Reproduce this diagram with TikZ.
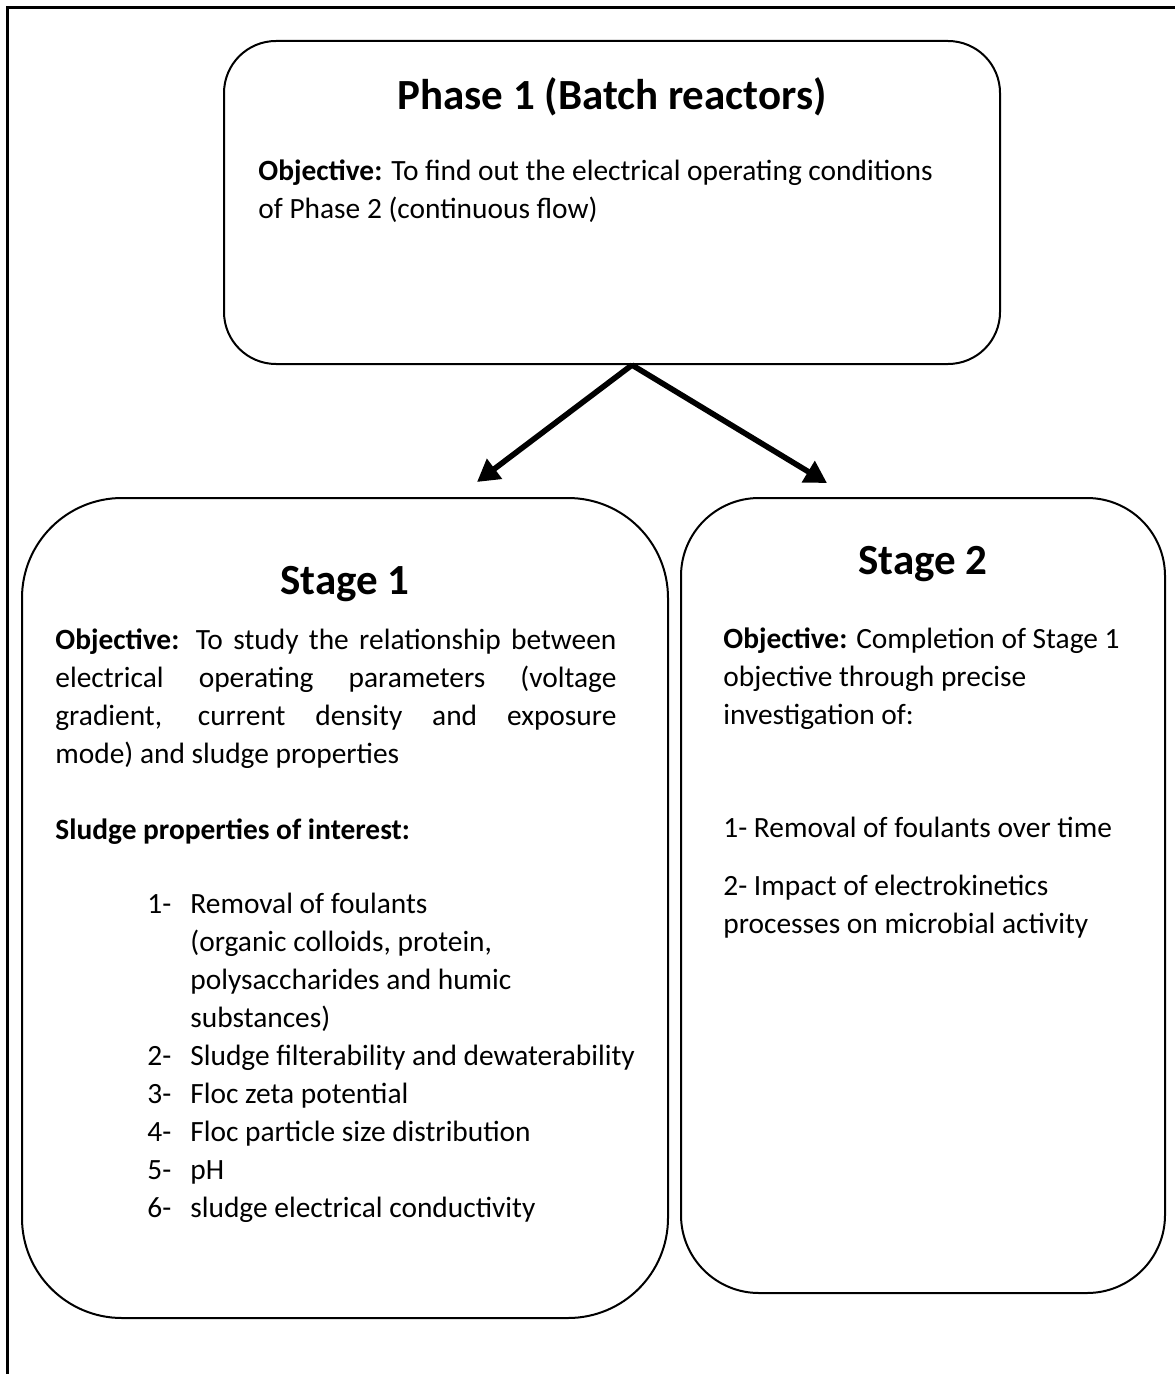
\documentclass[tikz,border=0pt]{standalone}
\usepackage{fontspec}
\setmainfont{Carlito}
\usetikzlibrary{arrows.meta, positioning}

\tikzset{
  stagebox/.style={draw, line width=1pt, inner sep=0pt},
  headtext/.style={font=\fontsize{21.5}{26}\selectfont\bfseries, inner sep=0pt, anchor=base},
  bodytext/.style={font=\fontsize{14.7}{19}\selectfont, inner sep=0pt, anchor=base west, align=left},
  flowarrow/.style={line width=2.8pt, -{Triangle[length=11pt,width=12pt]}}
}
\newcommand{\itemno}[1]{\makebox[21.5pt][l]{#1}}
\newcommand{\itemgap}{\hspace*{21.5pt}}

\begin{document}
\begin{tikzpicture}[x=0.5pt, y=-0.5pt]
    \useasboundingbox (0,0) rectangle (1175,1374);
    % page frame (top and left only)
    \draw[line width=1.25pt] (7.5,1374) -- (7.5,7.5) -- (1175,7.5);

    % boxes
    \node[stagebox, rounded corners=26pt, minimum width=388pt, minimum height=161.5pt] (phase) at (612,202.5) {};
    \node[stagebox, rounded corners=50pt, minimum width=323pt, minimum height=410pt] (stageone) at (345,908) {};
    \node[stagebox, rounded corners=39pt, minimum width=242pt, minimum height=397.5pt] (stagetwo) at (923,895.5) {};

    % Phase 1 (multi-line nodes sit on their last baseline)
    \node[headtext] (phasetitle) at (612,110) {Phase 1 (Batch reactors)};
    \node[bodytext] (phaseobj) at (258,219) {\textbf{Objective:} To find out the electrical operating conditions\\
      of Phase 2 (continuous flow)};

    % Stage 1
    \node[headtext] (onetitle) at (345,594) {Stage 1};
    \node[bodytext, text width=280.5pt, align=justify] (oneobj) at (55,649) {\textbf{Objective:} To study the relationship between\linebreak
      electrical operating parameters (voltage\linebreak
      gradient, current density and exposure\linebreak
      mode) and sludge properties};
    \node[bodytext, font=\fontsize{14.7}{19}\selectfont\bfseries] (onehead) at (55,839) {Sludge properties of interest:};
    \node[bodytext] (onelist) at (147,1217) {\itemno{1-}Removal of foulants\\
      \itemgap(organic colloids, protein,\\
      \itemgap polysaccharides and humic\\
      \itemgap substances)\\
      \itemno{2-}Sludge filterability and dewaterability\\
      \itemno{3-}Floc zeta potential\\
      \itemno{4-}Floc particle size distribution\\
      \itemno{5-}pH\\
      \itemno{6-}sludge electrical conductivity};

    % Stage 2
    \node[headtext] (twotitle) at (923,574) {Stage 2};
    \node[bodytext] (twoobj) at (723,724) {\textbf{Objective:} Completion of Stage 1\\
      objective through precise\\
      investigation of:};
    \node[bodytext] (twoitemone) at (723,837) {1- Removal of foulants over time};
    \node[bodytext] (twoitemtwo) at (723,933) {2- Impact of electrokinetics\\
      processes on microbial activity};

    % arrows
    \draw[flowarrow] ([xshift=10pt]phase.south) -- ([shift={(66pt,7.5pt)}]stageone.north);
    \draw[flowarrow] ([xshift=10pt]phase.south) -- ([shift={(-48pt,7pt)}]stagetwo.north);
\end{tikzpicture}
\end{document}
